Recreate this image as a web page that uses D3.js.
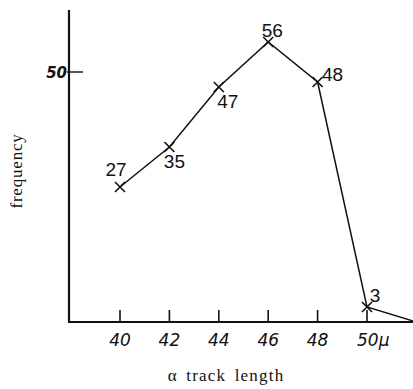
<!DOCTYPE html>
<html><head><meta charset="utf-8">
<script src="https://cdn.jsdelivr.net/npm/d3@7"></script>
<style>
html,body{margin:0;padding:0;background:#fff;}
svg{display:block;}
</style></head>
<body>
<script>
// ---- data ----
const trackLengths = [40, 42, 44, 46, 48, 50];
const frequencies  = [27, 35, 47, 56, 48, 3];
const tailPoint    = [52, 0];          // line runs down to the axis after the last point
const xTickValues  = [40, 42, 44, 46, 48, 50];
const xTickLabels  = ["40", "42", "44", "46", "48", "50"];
const yTickValues  = [50];
const yTickLabels  = ["50"];
const xTitle = "α track length";
const yTitle = "frequency";

// ---- layout ----
const W = 413, H = 389;
const svg = d3.select("body").append("svg").attr("width", W).attr("height", H);

const x = d3.scaleLinear().domain([40, 50]).range([120, 367]);
const y = d3.scaleLinear().domain([0, 50]).range([322, 72]);
const axisX = 69, axisY = 322;

const ink = "#111";

// axes lines
svg.append("line").attr("x1", axisX).attr("x2", axisX).attr("y1", 10).attr("y2", axisY)
  .attr("stroke", ink).attr("stroke-width", 2.2);
svg.append("line").attr("x1", axisX - 1).attr("x2", W).attr("y1", axisY).attr("y2", axisY)
  .attr("stroke", ink).attr("stroke-width", 2.2);

// x ticks (upward)
const xt = svg.append("g");
xTickValues.forEach((v, i) => {
  xt.append("line").attr("x1", x(v)).attr("x2", x(v)).attr("y1", axisY - 12).attr("y2", axisY)
    .attr("stroke", ink).attr("stroke-width", 1.6);
  const t = xt.append("text")
    .attr("x", x(v)).attr("y", 346)
    .attr("text-anchor", "middle")
    .attr("font-family", "'DejaVu Sans', sans-serif").attr("font-style", "italic")
    .attr("font-size", 17).attr("fill", ink)
    .text(xTickLabels[i]);
  if (i === xTickValues.length - 1) {
    t.attr("text-anchor", "start").attr("x", x(v) - 10);
    t.append("tspan").text("μ");
  }
});

// y ticks
yTickValues.forEach((v, i) => {
  svg.append("line").attr("x1", axisX - 2).attr("x2", axisX + 14).attr("y1", y(v)).attr("y2", y(v))
    .attr("stroke", ink).attr("stroke-width", 1.4);
  svg.append("text").attr("x", axisX - 2).attr("y", y(v) + 6)
    .attr("text-anchor", "end")
    .attr("font-family", "'DejaVu Sans', sans-serif").attr("font-style", "italic").attr("font-weight", "bold")
    .attr("font-size", 15).attr("fill", ink)
    .text(yTickLabels[i]);
});

// line
const pts = trackLengths.map((d, i) => [d, frequencies[i]]);
const linePts = pts.concat([tailPoint]);
svg.append("path")
  .attr("d", d3.line().x(d => x(d[0])).y(d => y(d[1]))(linePts))
  .attr("fill", "none").attr("stroke", ink).attr("stroke-width", 1.5);

// markers (x crosses)
const s = 5;
pts.forEach(d => {
  const cx = x(d[0]), cy = y(d[1]);
  svg.append("path")
    .attr("d", `M${cx - s},${cy - s}L${cx + s},${cy + s}M${cx - s},${cy + s}L${cx + s},${cy - s}`)
    .attr("stroke", ink).attr("stroke-width", 1.6);
});

// value labels
const labelPlacement = [[-4, -11], [5, 21], [9, 21], [4, -5], [15, -1], [8, -5]];
pts.forEach((d, i) => {
  svg.append("text")
    .attr("x", x(d[0]) + labelPlacement[i][0]).attr("y", y(d[1]) + labelPlacement[i][1])
    .attr("text-anchor", "middle")
    .attr("font-family", "'Liberation Sans', sans-serif")
    .attr("font-size", 19).attr("fill", ink)
    .text(d[1]);
});

// titles
svg.append("text").attr("x", 226).attr("y", 381).attr("text-anchor", "middle")
  .attr("font-family", "'Liberation Serif', serif").attr("font-size", 17)
  .attr("letter-spacing", 1.2).attr("word-spacing", 3).attr("fill", ink)
  .text(xTitle);
svg.append("text").attr("transform", "translate(22,171) rotate(-90)").attr("text-anchor", "middle")
  .attr("font-family", "'Liberation Serif', serif").attr("font-size", 17)
  .attr("letter-spacing", 0.8).attr("fill", ink)
  .text(yTitle);
</script>
</body></html>
